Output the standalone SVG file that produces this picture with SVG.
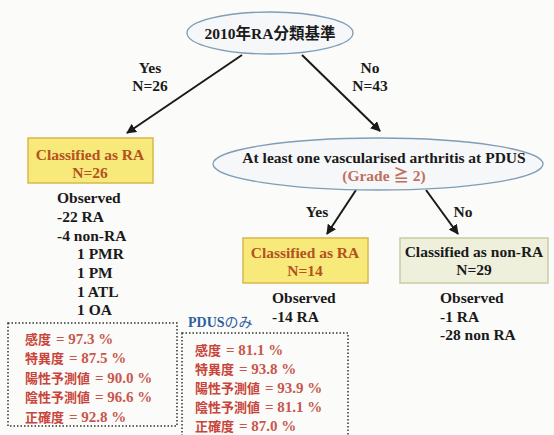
<svg xmlns="http://www.w3.org/2000/svg" width="554" height="435" viewBox="0 0 554 435">
<defs>
<style>
.t{font-size:15.5px;fill:#1a1a1a}
.c{text-anchor:middle}
.o{fill:#b4521f}
.cj{font-size:13px;fill:#c8443a}
.n{font-size:15px;fill:#c8574d}
.ell{fill:#f6f7f8;stroke:#7f9db5;stroke-width:1.3}
.yb{fill:#f7e97a;stroke:#d9b84e;stroke-width:1.5}
.gb{fill:#eef0dc;stroke:#c9cca6;stroke-width:1.5}
.dot{fill:none;stroke:#333;stroke-width:1.5;stroke-dasharray:1.5 2}
.ar{stroke:#1a1a1a;stroke-width:2;fill:none;marker-end:url(#ah)}
</style>
<marker id="ah" viewBox="0 0 10 10" refX="9" refY="5" markerWidth="5" markerHeight="5" orient="auto">
<path d="M0,0 L10,5 L0,10 z" fill="#1a1a1a"/>
</marker>
</defs>
<rect width="554" height="435" fill="#fbfbf9"/>
<g font-family="Liberation Serif, Noto Sans CJK JP, serif" font-weight="bold">
<g id="connectors">
<line class="ar" x1="242" y1="55" x2="127" y2="133"/>
<line class="ar" x1="302" y1="55" x2="380" y2="131"/>
<line class="ar" x1="356" y1="190" x2="327" y2="234"/>
<line class="ar" x1="426" y1="190" x2="458" y2="234"/>
<text class="t c" x="150" y="73">Yes</text>
<text class="t c" x="150" y="91">N=26</text>
<text class="t c" x="370" y="73">No</text>
<text class="t c" x="370" y="91">N=43</text>
<text class="t c" x="317" y="217">Yes</text>
<text class="t c" x="463" y="217">No</text>
</g>
<g id="root">
<ellipse class="ell" cx="270" cy="33" rx="83" ry="21"/>
<text class="t c" x="270" y="39" font-size="16">2010<tspan font-family="Noto Sans CJK JP, sans-serif">年</tspan>RA<tspan font-family="Noto Sans CJK JP, sans-serif">分類基準</tspan></text>
</g>
<g id="classified-ra-1">
<rect class="yb" x="28" y="138" width="125" height="45"/>
<text class="t c o" x="90" y="160">Classified as RA</text>
<text class="t c o" x="90" y="178">N=26</text>
</g>
<g id="observed-1">
<text class="t" x="57" y="203">Observed</text>
<text class="t" x="57" y="222">-22 RA</text>
<text class="t" x="57" y="241">-4 non-RA</text>
<text class="t" x="77" y="259">1 PMR</text>
<text class="t" x="77" y="278">1 PM</text>
<text class="t" x="77" y="297">1 ATL</text>
<text class="t" x="77" y="315">1 OA</text>
</g>
<g id="pdus">
<ellipse class="ell" cx="378" cy="164" rx="165" ry="26"/>
<text class="t c" x="384" y="163">At least one vascularised arthritis at PDUS</text>
<text class="t c" x="384" y="181" style="fill:#c0705f">(Grade ≧ 2)</text>
</g>
<g id="classified-ra-2">
<rect class="yb" x="243" y="238" width="125" height="45"/>
<text class="t c o" x="305" y="258">Classified as RA</text>
<text class="t c o" x="305" y="276">N=14</text>
</g>
<g id="observed-2">
<text class="t" x="272" y="303">Observed</text>
<text class="t" x="272" y="322">-14 RA</text>
</g>
<g id="classified-nonra">
<rect class="gb" x="400" y="238" width="148" height="45"/>
<text class="t c" x="474" y="257">Classified as non-RA</text>
<text class="t c" x="474" y="275">N=29</text>
</g>
<g id="observed-3">
<text class="t" x="440" y="303">Observed</text>
<text class="t" x="440" y="322">-1 RA</text>
<text class="t" x="440" y="340">-28 non RA</text>
</g>
<g id="stats-all">
<rect class="dot" x="8" y="323" width="169" height="103"/>
<text x="25" y="344"><tspan class="cj" font-family="Noto Sans CJK JP, sans-serif">感度</tspan><tspan class="n" dx="5">= 97.3 %</tspan></text>
<text x="25" y="363"><tspan class="cj" font-family="Noto Sans CJK JP, sans-serif">特異度</tspan><tspan class="n" dx="5">= 87.5 %</tspan></text>
<text x="25" y="383"><tspan class="cj" font-family="Noto Sans CJK JP, sans-serif">陽性予測値</tspan><tspan class="n" dx="5">= 90.0 %</tspan></text>
<text x="25" y="402"><tspan class="cj" font-family="Noto Sans CJK JP, sans-serif">陰性予測値</tspan><tspan class="n" dx="5">= 96.6 %</tspan></text>
<text x="25" y="422"><tspan class="cj" font-family="Noto Sans CJK JP, sans-serif">正確度</tspan><tspan class="n" dx="5">=  92.8 %</tspan></text>
</g>
<g id="stats-pdus">
<text x="188" y="327" font-size="14" fill="#2f5f9e">PDUS<tspan font-family="Noto Sans CJK JP, sans-serif" font-weight="normal">のみ</tspan></text>
<rect class="dot" x="182" y="333" width="166" height="106"/>
<text x="195" y="355"><tspan class="cj" font-family="Noto Sans CJK JP, sans-serif">感度</tspan><tspan class="n" dx="5">= 81.1 %</tspan></text>
<text x="195" y="374"><tspan class="cj" font-family="Noto Sans CJK JP, sans-serif">特異度</tspan><tspan class="n" dx="5">= 93.8 %</tspan></text>
<text x="195" y="393"><tspan class="cj" font-family="Noto Sans CJK JP, sans-serif">陽性予測値</tspan><tspan class="n" dx="5">= 93.9 %</tspan></text>
<text x="195" y="412"><tspan class="cj" font-family="Noto Sans CJK JP, sans-serif">陰性予測値</tspan><tspan class="n" dx="5">= 81.1 %</tspan></text>
<text x="195" y="431"><tspan class="cj" font-family="Noto Sans CJK JP, sans-serif">正確度</tspan><tspan class="n" dx="5">=  87.0 %</tspan></text>
</g>
</g>
</svg>
